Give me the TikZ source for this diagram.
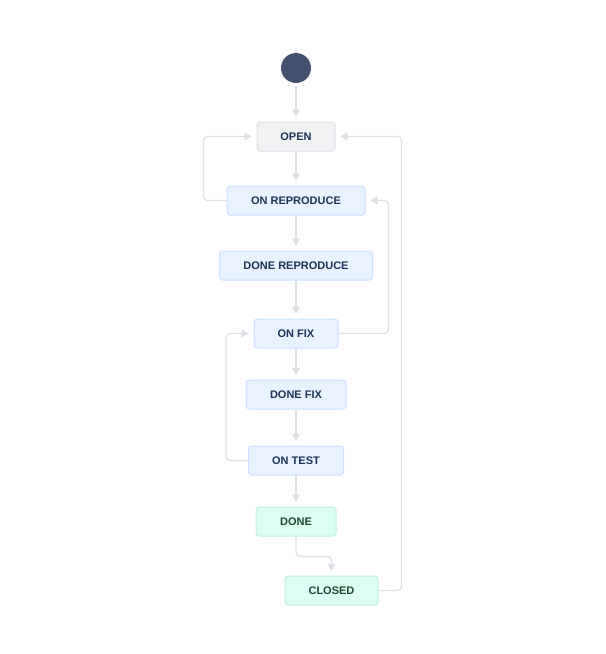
\documentclass[tikz,border=0pt]{standalone}
\usepackage{fontspec}
\setmainfont{Liberation Sans}
\usetikzlibrary{arrows.meta}
\definecolor{slate}{HTML}{42526E}
\definecolor{navy}{HTML}{1D3358}
\definecolor{pine}{HTML}{1B4A36}
\definecolor{linegray}{HTML}{DDE0E5}
\definecolor{grayfill}{HTML}{F1F2F4}
\definecolor{grayline}{HTML}{DCDFE4}
\definecolor{bluefill}{HTML}{E9F2FF}
\definecolor{blueline}{HTML}{CCE0FF}
\definecolor{greenfill}{HTML}{DCFFF1}
\definecolor{greenline}{HTML}{BAF3DB}
\tikzset{
    state/.style={draw=blueline, fill=bluefill, text=navy, rounded corners=2.5pt,
        line width=0.75pt, minimum height=21.75pt, inner sep=0pt,
        font=\bfseries\fontsize{8.25}{10}\selectfont},
    todo/.style={state, draw=grayline, fill=grayfill},
    finished/.style={state, draw=greenline, fill=greenfill, text=pine},
    flow/.style={draw=linegray, line width=0.9pt, rounded corners=3pt,
        -{Triangle[length=5.5pt,width=6pt]}, shorten >=3.5pt}
}
\begin{document}
\begin{tikzpicture}[x=0.75pt,y=-0.75pt]
    \useasboundingbox (0,0) rectangle (606,654);
    % The start point and the states.
        \node[circle, fill=slate, minimum size=22.5pt, inner sep=0pt] (start) at (296,68) {};
        \node[todo, minimum width=58.5pt] (open) at (296,136.5) {OPEN};
        \node[state, minimum width=103.5pt] (onrep) at (296,200.5) {ON REPRODUCE};
        \node[state, minimum width=114.75pt] (donerep) at (296,265.5) {DONE REPRODUCE};
        \node[state, minimum width=63pt] (onfix) at (296,333.5) {ON FIX};
        \node[state, minimum width=75pt] (donefix) at (296,394.5) {DONE FIX};
        \node[state, minimum width=71.25pt] (ontest) at (296,460.5) {ON TEST};
        \node[finished, minimum width=60pt] (done) at (296,521.5) {DONE};
        \node[finished, minimum width=69.75pt] (closed) at (331.5,590.5) {CLOSED};
    % Straight transitions down the column.
        \draw[flow, shorten <=2pt] (start) -- (open);
        \draw[flow] (open) -- (onrep);
        \draw[flow] (onrep) -- (donerep);
        \draw[flow] (donerep) -- (onfix);
        \draw[flow] (onfix) -- (donefix);
        \draw[flow] (donefix) -- (ontest);
        \draw[flow] (ontest) -- (done);
        \draw[flow] (done.south) -- ++(0,20) -| (closed.north);
    % These draw the loops back up.
        \draw[flow] (onrep.west) -- ++(-23,0) |- (open.west);
        \draw[flow] (ontest.west) -- ++(-22,0) |- (onfix.west);
        \draw[flow] (onfix.east) -- ++(50,0) |- (onrep.east);
        \draw[flow] (closed.east) -- ++(23,0) |- (open.east);
\end{tikzpicture}
\end{document}
